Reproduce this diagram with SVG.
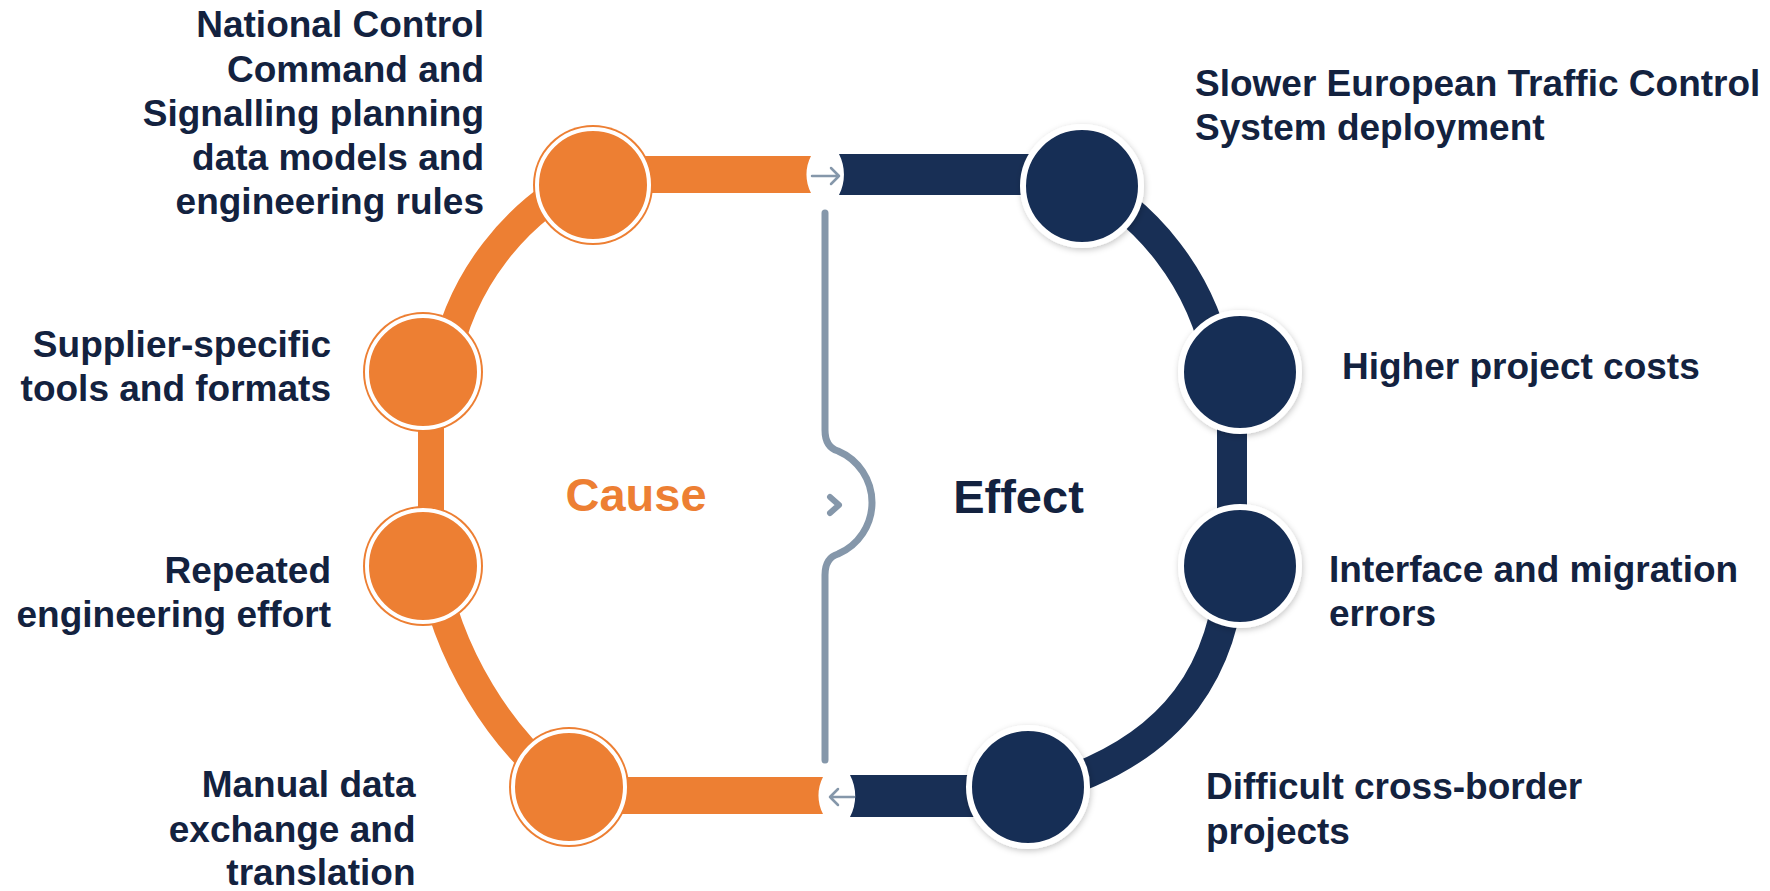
<svg xmlns="http://www.w3.org/2000/svg" width="1770" height="891" viewBox="0 0 1770 891">
  <style>
    .lbl { font-family: "Liberation Sans", Arial, sans-serif; font-weight: bold; font-size: 37px; fill: #13223F; }
    .r { text-anchor: end; }
    .head { font-family: "Liberation Sans", Arial, sans-serif; font-weight: bold; font-size: 47px; text-anchor: middle; }
    .orange { fill: #ED7F33; }
    .navy { fill: #182F55; }
    .oarc { fill: none; stroke: #ED7F33; stroke-width: 30; }
    .narc { fill: none; stroke: #182F55; stroke-width: 30; }
    .gray { fill: none; stroke: #8597AA; stroke-linecap: round; stroke-linejoin: round; }
    .onode-ring { fill: none; stroke: #FFFFFF; stroke-width: 4; }
    .nnode { fill: #182F55; stroke: #FFFFFF; stroke-width: 6; filter: url(#shadow); }
  </style>
  <defs>
    <filter id="shadow" x="-30%" y="-30%" width="160%" height="160%">
      <feDropShadow dx="1" dy="2" stdDeviation="3" flood-color="#000000" flood-opacity="0.22"/>
    </filter>
  </defs>
  <rect width="1770" height="891" fill="#FFFFFF"/>

  <g id="connectors">
    <!-- orange (cause) track -->
    <path class="orange" d="M 593 156 H 811 A 40 40 0 0 0 811 193 H 593 Z"/>
    <path class="oarc" d="M 593.6 172.9 A 266 266 0 0 0 444 367.8"/>
    <rect class="orange" x="418" y="372" width="26" height="194"/>
    <path class="oarc" d="M 431 560 C 445 650 500 745 575 795"/>
    <path class="orange" d="M 569 777 H 823 A 40 40 0 0 0 823 814 H 569 Z"/>
    <!-- navy (effect) track -->
    <path class="navy" d="M 839 154 A 45 45 0 0 1 839 195 H 1082 V 154 Z"/>
    <path class="narc" d="M 1069.4 172.9 A 266 266 0 0 1 1219 367.8"/>
    <rect class="navy" x="1217" y="372" width="30" height="194"/>
    <path class="narc" d="M 1232 560 C 1226 665 1180 750 1040 790"/>
    <path class="navy" d="M 850 775 A 45 45 0 0 1 850 817 H 1028 V 775 Z"/>
    <!-- arrows in the gaps -->
    <path class="gray" stroke-width="2.5" d="M 812 176 H 839 M 831 168 L 839 176 L 831 184"/>
    <path class="gray" stroke-width="2.5" d="M 854 797 H 830 M 838 789 L 830 797 L 838 805"/>
    <!-- brace divider -->
    <path class="gray" stroke-width="7" d="M 825 213 V 430 Q 825 447 838 451 A 56 56 0 0 1 838 554 Q 825 558 825 575 V 760"/>
    <path class="gray" stroke-width="6" d="M 830 497 L 839 505 L 830 513"/>
  </g>

  <g id="cause-1">
    <circle class="orange" cx="593" cy="185" r="60"/>
    <circle class="onode-ring" cx="593" cy="185" r="56"/>
    <text class="lbl r" x="484" y="37">National Control</text>
    <text class="lbl r" x="484" y="81.5">Command and</text>
    <text class="lbl r" x="484" y="126">Signalling planning</text>
    <text class="lbl r" x="484" y="170">data models and</text>
    <text class="lbl r" x="484" y="214">engineering rules</text>
  </g>
  <g id="cause-2">
    <circle class="orange" cx="423" cy="372" r="60"/>
    <circle class="onode-ring" cx="423" cy="372" r="56"/>
    <text class="lbl r" x="331" y="357">Supplier-specific</text>
    <text class="lbl r" x="331" y="401">tools and formats</text>
  </g>
  <g id="cause-3">
    <circle class="orange" cx="423" cy="566" r="60"/>
    <circle class="onode-ring" cx="423" cy="566" r="56"/>
    <text class="lbl r" x="331" y="582.5">Repeated</text>
    <text class="lbl r" x="331" y="627">engineering effort</text>
  </g>
  <g id="cause-4">
    <circle class="orange" cx="569" cy="787" r="60"/>
    <circle class="onode-ring" cx="569" cy="787" r="56"/>
    <text class="lbl r" x="415.5" y="797">Manual data</text>
    <text class="lbl r" x="415.5" y="842">exchange and</text>
    <text class="lbl r" x="415.5" y="885">translation</text>
  </g>

  <g id="effect-1">
    <circle class="nnode" cx="1082" cy="186" r="59"/>
    <text class="lbl" x="1195" y="96">Slower European Traffic Control</text>
    <text class="lbl" x="1195" y="140">System deployment</text>
  </g>
  <g id="effect-2">
    <circle class="nnode" cx="1240" cy="372" r="59"/>
    <text class="lbl" x="1342" y="379">Higher project costs</text>
  </g>
  <g id="effect-3">
    <circle class="nnode" cx="1240" cy="566" r="59"/>
    <text class="lbl" x="1329" y="581.5">Interface and migration</text>
    <text class="lbl" x="1329" y="626">errors</text>
  </g>
  <g id="effect-4">
    <circle class="nnode" cx="1028" cy="787" r="59"/>
    <text class="lbl" x="1206" y="799">Difficult cross-border</text>
    <text class="lbl" x="1206" y="844">projects</text>
  </g>

  <g id="headings">
    <text class="head" x="636" y="511" fill="#ED7F33">Cause</text>
    <text class="head" x="1018.5" y="513" fill="#13223F">Effect</text>
  </g>
</svg>
